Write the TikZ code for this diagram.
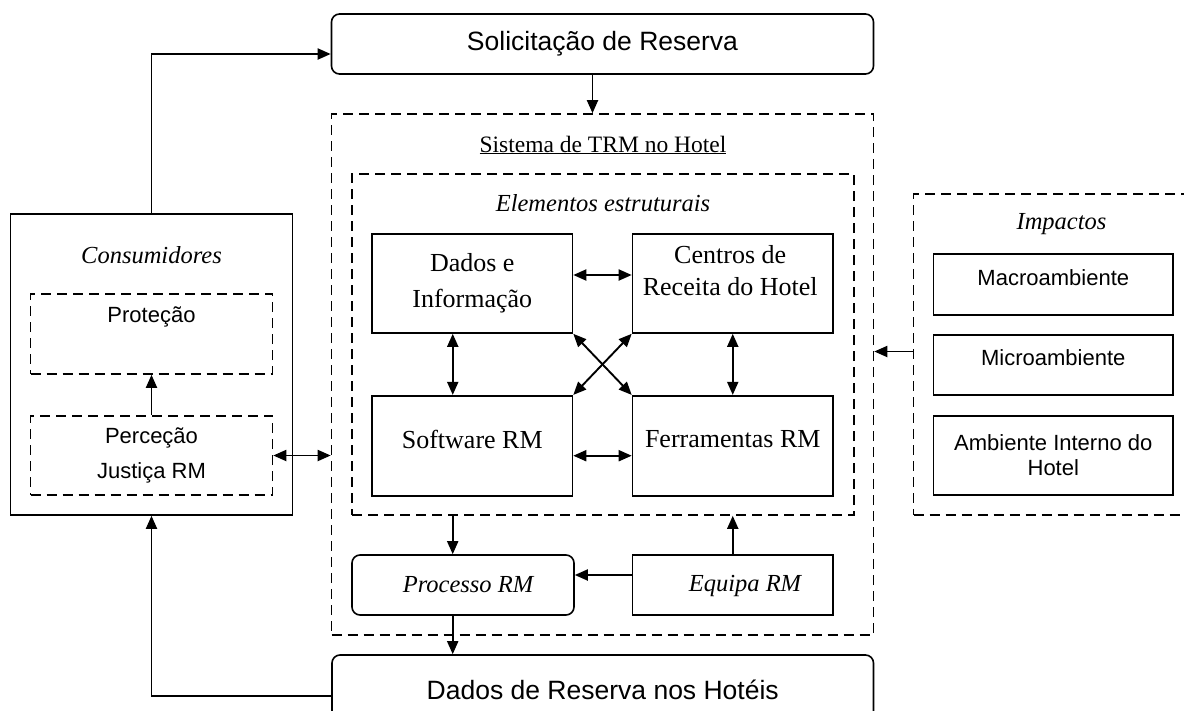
\documentclass[tikz,border=0pt]{standalone}
\usepackage{fontspec}
\setmainfont{Liberation Serif}
\setsansfont{Liberation Sans}
\usetikzlibrary{arrows.meta,positioning,calc}

\begin{document}
\begin{tikzpicture}[x=1pt,y=-1pt,
    box/.style={draw,line width=1.6pt,inner sep=0pt,minimum width=200.5pt,minimum height=99pt,
      align=center,font=\fontsize{26}{36}\selectfont},
    rbox/.style={box,rounded corners=8pt},
    sbox/.style={draw,line width=1.6pt,inner sep=0pt,minimum width=239.4pt,minimum height=61pt,
      align=center,font=\sffamily\fontsize{22}{25}\selectfont},
    dbox/.style={draw,line width=1.6pt,dash pattern=on 10pt off 6pt,inner sep=0pt},
    serif/.style={align=center,font=\fontsize{26}{32}\selectfont},
    sans/.style={align=center,font=\sffamily\fontsize{22}{25}\selectfont},
    lbl/.style={font=\itshape\fontsize{24.5}{28}\selectfont},
    arr/.style={line width=1.9pt,-{Triangle[length=13pt,width=11pt]}},
    darr/.style={line width=1.9pt,{Triangle[length=13pt,width=11pt]}-{Triangle[length=13pt,width=11pt]}}]
  \useasboundingbox (0,0) rectangle (1184,710);
  \clip (0,0) rectangle (1184,710);

  % top and bottom boxes
  \node [rbox,minimum width=542pt,minimum height=60pt,font=\sffamily\fontsize{26.5}{32}\selectfont]
    (sol) at (602.5,44) {Solicitação de Reserva};
  \node [rbox,minimum width=541.5pt,minimum height=70pt,font=\sffamily\fontsize{26.5}{32}\selectfont]
    (res) at (602.75,690) {Dados de Reserva nos Hotéis};

  % hotel system
  \node [dbox,minimum width=542pt,minimum height=521pt] (sys) at (602.5,374.5) {};
  \node [font=\fontsize{23.5}{28}\selectfont] (systxt) at (603,145) {\underline{Sistema de TRM no Hotel}};
  \node [dbox,minimum width=502pt,minimum height=341pt] (elem) at (603,344.5) {};
  \node [lbl] (elemtxt) at (603,203) {Elementos estruturais};

  \node [box] (dados) at (472.25,283.5) {Dados e\\Informação};
  \node [box] (centros) at (732.75,283.5) {};
  \node [serif] (centrostxt) at (730.2,271) {Centros de\\Receita do Hotel};
  \node [box,minimum height=100pt] (soft) at (472.25,445.7) {};
  \node [serif] (softtxt) at (472.25,439) {Software RM};
  \node [box,minimum height=100pt] (ferr) at (732.75,445.7) {};
  \node [serif] (ferrtxt) at (732.75,439) {Ferramentas RM};

  \node [rbox,minimum width=222pt,minimum height=60pt,font=\itshape\fontsize{24.5}{28}\selectfont]
    (proc) at (463,585) {\hspace*{10pt}Processo RM};
  \node [box,minimum height=60pt] (equipa) at (732.75,585) {};
  \node [lbl] (equipatxt) at (745,585.7) {Equipa RM};

  % consumers
  \node [draw,line width=1.6pt,minimum width=281.7pt,minimum height=301pt] (cons) at (151.5,364.5) {};
  \node [lbl] (constxt) at (151.5,255) {Consumidores};
  \node [dbox,minimum width=242pt,minimum height=80pt] (prot) at (151.5,334) {};
  \node [sans] (prottxt) at (151.5,317) {Proteção};
  \node [dbox,minimum width=242pt,minimum height=79pt,align=center,
    font=\sffamily\fontsize{22}{35}\selectfont] (perc) at (151.5,455.5) {Perceção\\Justiça RM};

  % impacts
  \node [dbox,minimum width=290pt,minimum height=321pt] (imp) at (1058.6,354.5) {};
  \node [lbl] (imptxt) at (1061.5,224) {Impactos};
  \node [sbox] (macro) at (1053.3,284.5) {};
  \node [sans] (macrotxt) at (1053.3,277.5) {Macroambiente};
  \node [sbox,minimum height=60pt] (micro) at (1053.3,365) {};
  \node [sans] (microtxt) at (1053.3,358) {Microambiente};
  \node [sbox,minimum height=79pt] (amb) at (1053.3,455.5) {Ambiente Interno do\\Hotel};

  % connectors
  \draw [arr] (cons.north) |- ([yshift=-10pt]sol.west);
  \draw [arr] ([xshift=-10pt]sol.south) -- ([xshift=-10pt]sol.south |- sys.north);
  \draw [arr] (perc.north) -- (prot.south);
  \draw [darr] (perc.east) -- (perc.east -| sys.west);
  \draw [darr] ([yshift=8.5pt]dados.east) -- ([yshift=8.5pt]centros.west);
  \draw [darr] ([yshift=-10pt]soft.east) -- ([yshift=-10pt]ferr.west);
  \draw [darr] ([xshift=-19.5pt]dados.south) -- ([xshift=-19.5pt]soft.north);
  \draw [darr] (centros.south) -- (ferr.north);
  \draw [darr] (dados.south east) -- (ferr.north west);
  \draw [darr] (centros.south west) -- (soft.north east);
  \draw [arr] ([xshift=-10.3pt]proc.north |- elem.south) -- ([xshift=-10.3pt]proc.north);
  \draw [arr] (equipa.north) -- (equipa.north |- elem.south);
  \draw [arr] ([yshift=10pt]equipa.west) -- ([yshift=10pt]equipa.west -| proc.east);
  \draw [arr] ([xshift=-10.3pt]proc.south) -- ([xshift=-10.3pt]proc.south |- res.north);
  \draw [arr] ([yshift=-6pt]res.west) -| (cons.south);
  \draw [arr] ([yshift=3pt]imp.west) -- ([yshift=3pt]imp.west -| sys.east);
\end{tikzpicture}
\end{document}
